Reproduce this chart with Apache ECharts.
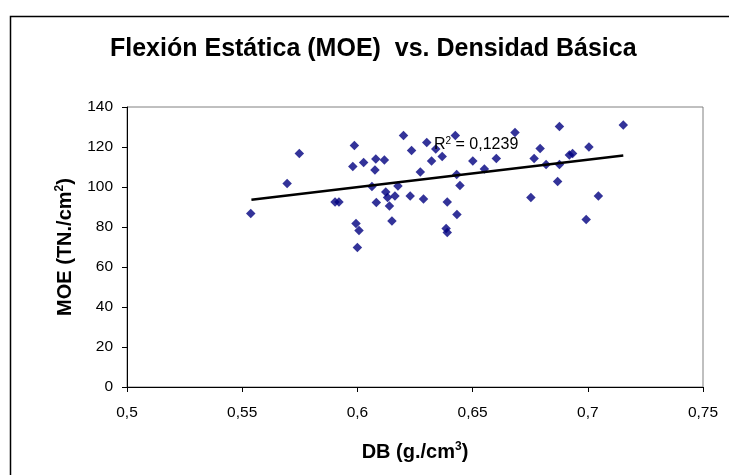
<!DOCTYPE html>
<html><head><meta charset="utf-8">
<script src="https://cdn.jsdelivr.net/npm/echarts@6/dist/echarts.min.js"></script>
<style>html,body{margin:0;padding:0;background:#fff}#c{width:729px;height:475px}</style>
</head><body><div id="c"></div>
<script>
// Data
var dbValues = [0.5537,0.5695,0.5748,0.5903,0.592,0.5987,0.598,0.5994,0.6007,0.600,0.6027,0.608,0.6117,0.6076,0.6063,0.6082,0.6123,0.6131,0.6139,0.6163,0.615,0.6176,0.620,0.6235,0.6301,0.634,0.6322,0.6368,0.6425,0.6273,0.6229,0.6287,0.639,0.6431,0.6445,0.6432,0.6385,0.639,0.6501,0.6551,0.6603,0.6684,0.6753,0.6793,0.6767,0.6819,0.6877,0.7154,0.6877,0.692,0.6934,0.7005,0.6869,0.7046,0.6993];
var moeValues = [86.8,101.8,116.8,92.5,92.5,120.7,110.3,81.8,78.2,69.8,112.2,114,113.5,108.5,100.2,92.3,97.5,94.8,90.5,95.5,83,100.5,125.7,118.3,122.3,119,113,115.2,125.7,107.5,95.5,94,92.5,106.3,100.8,86.2,79.3,77.2,113,109,114.3,127.2,94.7,119.2,114.3,111.3,130.3,131,111.3,116,116.8,120,102.7,95.5,83.7];
var trendX = [0.554, 0.7154];
var trendY = [93.6, 115.8];
var xTicks = ['0,5','0,55','0,6','0,65','0,7','0,75'];
var yTicks = ['0','20','40','60','80','100','120','140'];
var r2Label = '0,1239';

var pts = dbValues.map(function(x,i){return [x, moeValues[i]];});
var trend = trendX.map(function(x,i){return [x, trendY[i]];});
var F = 'Liberation Sans, Arial, sans-serif';
var chart = echarts.init(document.getElementById('c'));
chart.setOption({
  animation:false,
  backgroundColor:'#fff',
  title:{text:'Flexión Estática (MOE)  vs. Densidad Básica', left:105, top:32,
    textStyle:{fontFamily:F, fontWeight:'bold', fontSize:25, color:'#000'}},
  grid:{left:127, right:26, top:107, bottom:88, show:true, borderColor:'#808080', borderWidth:1, backgroundColor:'#fff'},
  xAxis:{type:'value', min:0.5, max:0.75, interval:0.05,
    axisLine:{lineStyle:{color:'#000', width:1}},
    axisTick:{lineStyle:{color:'#000'}, length:5},
    splitLine:{show:false},
    axisLabel:{fontFamily:F, fontSize:15.5, color:'#000', margin:18,
      formatter:function(v){var i=Math.round((v-0.5)/0.05);return xTicks[i];}},
    name:'{a|DB (g./cm}{s|3}{a|)}', nameLocation:'middle', nameGap:54,
    nameTextStyle:{rich:{a:{fontFamily:F,fontWeight:'bold',fontSize:20,color:'#000'},
      s:{fontFamily:F,fontWeight:'bold',fontSize:12,color:'#000',verticalAlign:'top',padding:[0,0,10,0]}}}
  },
  yAxis:{type:'value', min:0, max:140, interval:20,
    axisLine:{show:true, lineStyle:{color:'#000', width:1}},
    axisTick:{show:true, lineStyle:{color:'#000'}, length:5},
    splitLine:{show:false},
    axisLabel:{fontFamily:F, fontSize:15.5, color:'#000', margin:14,
      formatter:function(v){return yTicks[Math.round(v/20)];}},
    name:'{a|MOE (TN./cm}{s|2}{a|)}', nameLocation:'middle', nameGap:51, nameRotate:90,
    nameTextStyle:{rich:{a:{fontFamily:F,fontWeight:'bold',fontSize:20,color:'#000'},
      s:{fontFamily:F,fontWeight:'bold',fontSize:12,color:'#000',verticalAlign:'top',padding:[0,0,10,0]}}}
  },
  series:[
    {type:'scatter', data:pts, symbol:'diamond', symbolSize:9.5, itemStyle:{color:'#000080'}, z:2},
    {type:'line', data:trend, symbol:'none', lineStyle:{color:'#000', width:2.5}, z:3, silent:true}
  ],
  graphic:[
    {type:'rect', left:8, top:14, shape:{width:900, height:600}, style:{fill:null, stroke:'#000', lineWidth:1.5}, z:-10, silent:true},
    {type:'text', left:434, top:136, z:100, style:{text:'{a|R}{s|2}{a| = '+r2Label+'}', rich:{
      a:{fontFamily:F,fontSize:16,fill:'#000'}, s:{fontFamily:F,fontSize:10,fill:'#000',verticalAlign:'top',padding:[0,0,8,0]}}}}
  ]
});
</script></body></html>
